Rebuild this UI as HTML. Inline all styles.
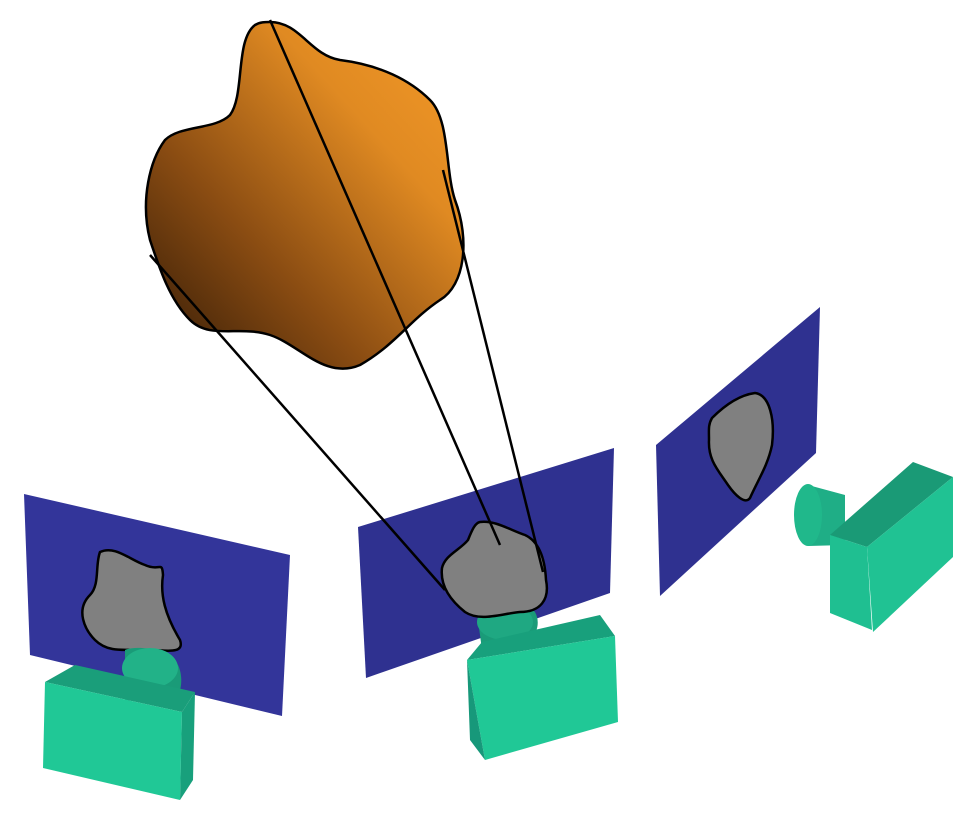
<!DOCTYPE html>
<html><head><meta charset="utf-8"><style>
html,body{margin:0;padding:0;background:#fff;}
svg{display:block;}
</style></head><body>
<svg width="968" height="818" viewBox="0 0 968 818">
<defs>
<linearGradient id="og" x1="0" y1="1" x2="1" y2="0">
<stop offset="0" stop-color="#2e1806"/>
<stop offset="0.35" stop-color="#8a4c12"/>
<stop offset="0.7" stop-color="#e08a22"/>
<stop offset="1" stop-color="#f59a28"/>
</linearGradient>
</defs>

<polygon points="24,494 290,555 282,716 30,655" fill="#33359a"/>
<polygon points="358,527 614,448 610,593 366,678" fill="#2f3190"/>
<polygon points="656,445 820,307 816,453 660,596" fill="#2f3190"/>

<path d="M100,552 C115,545 130,560 145,565 C160,572 162,560 163,575 C160,595 165,615 180,640 C185,655 165,650 150,650 C130,648 110,655 95,640 C85,630 75,610 90,595 C100,585 95,565 100,552 Z" fill="#808080" stroke="#000" stroke-width="2.5"/>
<path d="M712,418 C725,405 740,395 755,393 C770,395 775,420 772,445 C768,465 758,480 750,498 C745,505 735,495 728,485 C718,470 708,460 709,440 C709,430 708,425 712,418 Z" fill="#808080" stroke="#000" stroke-width="2.5"/>

<g>
<path d="M125,650 C135,645 168,648 178,665 C185,680 180,700 170,705 L125,700 Z" fill="#1a9b78"/>
<ellipse cx="150" cy="668" rx="28" ry="20" fill="#22b288"/>
<polygon points="45,682 75,665 195,692 182,712" fill="#1a9e7a"/>
<polygon points="45,682 182,712 180,800 43,768" fill="#20c896"/>
<polygon points="182,712 195,692 193,780 180,800" fill="#18a07c"/>
</g>
<g>
<path d="M478,620 C485,605 520,598 535,612 C542,625 535,640 520,648 L482,650 Z" fill="#1a9b78"/>
<ellipse cx="505" cy="622" rx="28" ry="18" fill="#1fa882"/>
<polygon points="467,660 482,642 600,615 615,636" fill="#18a07c"/>
<polygon points="467,660 615,636 618,722 485,760" fill="#20c896"/>
<polygon points="467,660 485,760 470,740" fill="#17987a"/>
</g>
<g>
<polygon points="808,485 845,495 845,545 808,546" fill="#1fae86"/>
<ellipse cx="808" cy="515" rx="14" ry="31" fill="#20b88b"/>
<polygon points="830,535 913,462 953,477 867,547" fill="#1a9a76"/>
<polygon points="830,535 867,547 872,630 830,613" fill="#1fbf91"/>
<polygon points="867,547 953,477 953,557 873,632" fill="#20c293"/>
</g>

<path d="M270,22 C300,22 310,55 340,60 C380,65 410,80 430,100 C450,120 445,170 455,200 C470,240 465,285 440,300 C410,320 395,345 360,365 C325,380 300,345 270,335 C240,325 210,340 190,320 C170,300 160,270 150,240 C140,200 150,160 165,140 C180,125 215,130 230,115 C245,95 235,40 255,25 C260,22 265,22 270,22 Z" fill="url(#og)" stroke="#000" stroke-width="2.5"/>

<path d="M480,522 C495,520 510,530 525,535 C540,542 545,560 546,580 C550,600 540,612 520,612 C500,614 480,622 465,612 C450,600 440,585 442,568 C445,555 460,550 468,540 C472,530 475,523 480,522 Z" fill="#808080" stroke="#000" stroke-width="2.5"/>

<g stroke="#000" stroke-width="2.5">
<line x1="150" y1="255" x2="445" y2="590"/>
<line x1="270" y1="20" x2="500" y2="545"/>
<line x1="443" y1="170" x2="543" y2="572"/>
</g>
</svg>
</body></html>
